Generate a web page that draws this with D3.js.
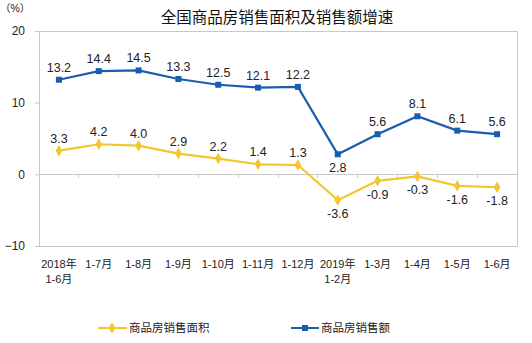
<!DOCTYPE html>
<html><head><meta charset="utf-8">
<script src="https://cdn.jsdelivr.net/npm/d3@7/dist/d3.min.js"></script>
<style>
body{margin:0;background:#fff;}
text{font-family:"Liberation Sans","Noto Sans CJK SC",sans-serif;}
</style></head>
<body><svg id="c" width="532" height="343"></svg>
<script>
const categories = [["2018年","1-6月"],["1-7月"],["1-8月"],["1-9月"],["1-10月"],["1-11月"],["1-12月"],["2019年","1-2月"],["1-3月"],["1-4月"],["1-5月"],["1-6月"]];
const areaGrowth = [3.3,4.2,4.0,2.9,2.2,1.4,1.3,-3.6,-0.9,-0.3,-1.6,-1.8];
const salesGrowth = [13.2,14.4,14.5,13.3,12.5,12.1,12.2,2.8,5.6,8.1,6.1,5.6];
const yTicks = [-10,0,10,20];
const seriesNames = ["商品房销售面积","商品房销售额"];
const yellow = "#F2C62C", blue = "#1A5CB0";

const svg = d3.select("#c");
const L=39, R=517, T=31, B=246;
const x = d3.scaleBand().domain(d3.range(categories.length)).range([L,R]);
const y = d3.scaleLinear().domain([-10,20]).range([B,T]);
const cx = i => x(i)+x.bandwidth()/2;

svg.append("rect").attr("x",L).attr("y",T).attr("width",R-L).attr("height",B-T)
  .attr("fill","none").attr("stroke","#c8c8c8").attr("stroke-width",1).attr("shape-rendering","crispEdges");

const ya = svg.append("g").attr("transform",`translate(${L},0)`)
  .call(d3.axisLeft(y).tickValues(yTicks).tickSize(4).tickPadding(10));
ya.select(".domain").attr("stroke","#c8c8c8");
ya.selectAll(".tick line").attr("stroke","#c8c8c8");
ya.selectAll("text").attr("font-size",12).attr("fill","#222");

svg.append("line").attr("x1",L).attr("x2",R).attr("y1",y(0)).attr("y2",y(0))
  .attr("stroke","#c8c8c8").attr("shape-rendering","crispEdges");
svg.append("g").selectAll("line").data(d3.range(1,categories.length)).join("line")
  .attr("x1",i=>x(i)).attr("x2",i=>x(i)).attr("y1",y(0)).attr("y2",y(0)+4)
  .attr("stroke","#c8c8c8").attr("shape-rendering","crispEdges");

const xl = svg.append("g");
categories.forEach((c,i)=>{
  const t = xl.append("text").attr("x",cx(i)).attr("y",268).attr("text-anchor","middle")
    .attr("font-size",11).attr("fill","#222");
  c.forEach((s,k)=>t.append("tspan").attr("x",cx(i)).attr("dy",k?15:0).text(s));
});

const line = d3.line().x((d,i)=>cx(i)).y(d=>y(d));
svg.append("path").datum(areaGrowth).attr("d",line).attr("fill","none").attr("stroke",yellow).attr("stroke-width",2.2);
svg.append("path").datum(salesGrowth).attr("d",line).attr("fill","none").attr("stroke",blue).attr("stroke-width",2.2);

const diamond = d3.symbol().type(d3.symbolDiamond).size(38);
svg.append("g").selectAll("path").data(areaGrowth).join("path")
  .attr("d",diamond).attr("transform",(d,i)=>`translate(${cx(i)},${y(d)})`).attr("fill",yellow);
svg.append("g").selectAll("rect").data(salesGrowth).join("rect")
  .attr("x",(d,i)=>cx(i)-3).attr("y",d=>y(d)-3).attr("width",6).attr("height",6).attr("fill",blue);

svg.append("g").selectAll("text").data(salesGrowth).join("text")
  .attr("x",(d,i)=>cx(i)).attr("y",(d,i)=>i===7?y(d)+18:y(d)-8).attr("text-anchor","middle")
  .attr("font-size",12.5).attr("fill","#222").text(d=>d.toFixed(1));
svg.append("g").selectAll("text").data(areaGrowth).join("text")
  .attr("x",(d,i)=>cx(i)).attr("y",d=>d>=0?y(d)-8:y(d)+18).attr("text-anchor","middle")
  .attr("font-size",12.5).attr("fill","#222").text(d=>d.toFixed(1));

svg.append("text").attr("x",277).attr("y",23).attr("text-anchor","middle")
  .attr("font-size",15.5).attr("fill","#111").text("全国商品房销售面积及销售额增速");
svg.append("text").attr("x",0).attr("y",12).attr("font-size",10.5).attr("fill","#222").text("（%）");

const lg = svg.append("g");
lg.append("line").attr("x1",98).attr("x2",127).attr("y1",328).attr("y2",328).attr("stroke",yellow).attr("stroke-width",2);
lg.append("path").attr("d",diamond).attr("transform","translate(112,328)").attr("fill",yellow);
lg.append("text").attr("x",129).attr("y",332).attr("font-size",11.5).attr("fill","#222").text(seriesNames[0]);
lg.append("line").attr("x1",291).attr("x2",319).attr("y1",328).attr("y2",328).attr("stroke",blue).attr("stroke-width",2);
lg.append("rect").attr("x",302).attr("y",325).attr("width",6).attr("height",6).attr("fill",blue);
lg.append("text").attr("x",321).attr("y",332).attr("font-size",11.5).attr("fill","#222").text(seriesNames[1]);
</script></body></html>
